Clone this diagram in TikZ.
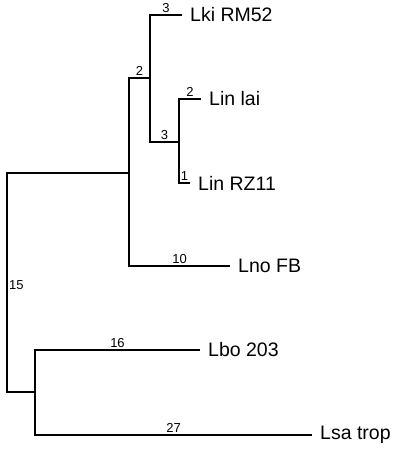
\documentclass[tikz,border=0pt]{standalone}
\usepackage{fontspec}
\setmainfont{Liberation Sans}
\usetikzlibrary{positioning}

\tikzset{
    branch/.style={-, line width=1.1pt},
    leaf/.style={anchor=west, inner sep=8pt, font=\fontsize{19.5}{19.5}\selectfont},
    blen/.style={above, inner sep=1.5pt, font=\fontsize{13}{13}\selectfont}
}

\begin{document}
\begin{tikzpicture}[x=1pt, y=-1pt]
        \useasboundingbox (0,0) rectangle (400,449);

        \coordinate (root) at (7,285);
        \coordinate (nA) at (129,173);
        \coordinate (nB) at (35,392);
        \coordinate (nC) at (150,78);
        \coordinate (nD) at (179,142);

        \node[leaf] (lki) at (182,15) {Lki RM52};
        \node[leaf] (lai) at (201,99) {Lin lai};
        \node[leaf] (rz) at (190,183) {Lin RZ11};
        \node[leaf] (lno) at (230,266) {Lno FB};
        \node[leaf] (lbo) at (200,350) {Lbo 203};
        \node[leaf] (lsa) at (312,435) {Lsa trop};

        \draw[branch](root)|-(nA);
        \draw[branch](root)|-(nB);
        \node[right, inner sep=2pt, font=\fontsize{13}{13}\selectfont] (l15) at (root) {15};

        \draw[branch](nA)|-(nC)node[blen, pos=0.75]{2};
        \draw[branch](nA)|-(lno.west)node[blen, pos=0.75]{10};

        \draw[branch](nC)|-(lki.west)node[blen, pos=0.75]{3};
        \draw[branch](nC)|-(nD)node[blen, pos=0.75]{3};

        \draw[branch](nD)|-(lai.west)node[blen, pos=0.75]{2};
        \draw[branch](nD)|-(rz.west)node[blen, pos=0.75]{1};

        \draw[branch](nB)|-(lbo.west)node[blen, pos=0.75]{16};
        \draw[branch](nB)|-(lsa.west)node[blen, pos=0.75]{27};
    \end{tikzpicture}
\end{document}
